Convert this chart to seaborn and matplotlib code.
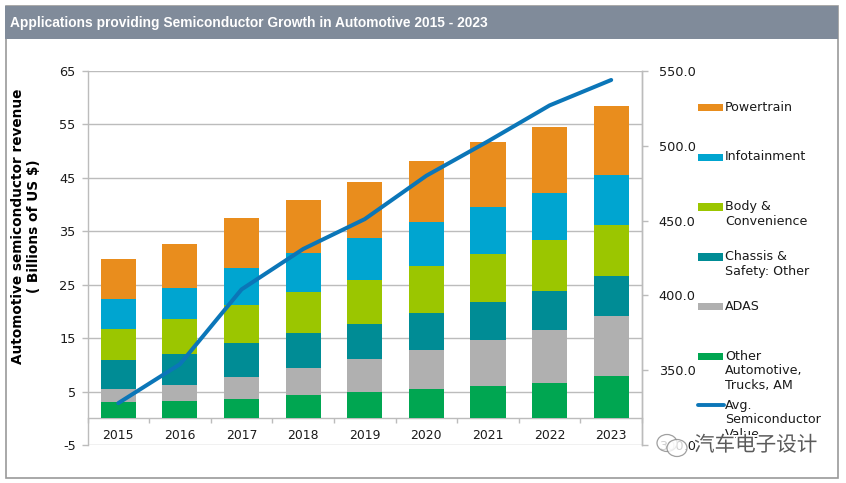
import numpy as np
import pandas as pd
import matplotlib.pyplot as plt
import matplotlib.patheffects as pe
import seaborn as sns
from matplotlib.patches import Rectangle, Ellipse
from matplotlib.lines import Line2D

years = ['2015', '2016', '2017', '2018', '2019', '2020', '2021', '2022', '2023']

# values, bottom segment first
other = [3.0, 3.3, 3.7, 4.4, 4.9, 5.5, 6.0, 6.6, 8.0]
adas = [2.4, 2.9, 4.0, 5.0, 6.2, 7.3, 8.6, 9.9, 11.1]
chassis = [5.5, 5.8, 6.3, 6.5, 6.6, 6.9, 7.1, 7.4, 7.5]
body = [5.9, 6.5, 7.2, 7.7, 8.2, 8.8, 9.1, 9.4, 9.6]
infotainment = [5.5, 5.9, 7.0, 7.4, 7.9, 8.2, 8.7, 8.9, 9.3]
powertrain = [7.6, 8.2, 9.3, 9.9, 10.5, 11.4, 12.2, 12.4, 13.0]
avg_value = [328, 354, 404, 431, 451, 480, 503, 527, 544]

series_names = ['Other\nAutomotive,\nTrucks, AM', 'ADAS', 'Chassis &\nSafety: Other',
                'Body &\nConvenience', 'Infotainment', 'Powertrain']
series_values = [other, adas, chassis, body, infotainment, powertrain]
series_colors = ['#00A651', '#B0B0B0', '#008C95', '#9BC600', '#00A5D0', '#E98D1D']
line_name = 'Avg.\nSemiconductor\nValue'
line_color = '#0B76B8'

left_ticks = [-5, 5, 15, 25, 35, 45, 55, 65]
right_ticks = [300, 350, 400, 450, 500, 550]

W, H = 846, 483
grid_color = '#BCBCBC'
text_color = '#1A1A1A'

sns.set_theme(style='white')
plt.rcParams['font.family'] = ['DejaVu Sans']
plt.rcParams['axes.unicode_minus'] = False


def fx(px):
    return px / W


def fy(py):
    return 1 - py / H


fig = plt.figure(figsize=(W / 100, H / 100), dpi=100, facecolor='white')

# outer frame and title band, kept behind the axes
fig.patches.append(Rectangle((fx(5.5), fy(478)), fx(832), 472 / H, transform=fig.transFigure,
                             facecolor='white', edgecolor='#9A9A9A', linewidth=1.2, zorder=-2))
fig.patches.append(Rectangle((fx(5), fy(39)), fx(833), 33 / H, transform=fig.transFigure,
                             facecolor='#808B9A', edgecolor='none', zorder=-1))
fig.text(fx(10), fy(23), 'Applications providing Semiconductor Growth in Automotive 2015 - 2023',
         color='white', fontsize=9.93, fontweight='bold', family='Liberation Sans', va='center')

ax = fig.add_axes([fx(87.5), fy(445), fx(642 - 87.5), (445 - 71) / H])
ax.patch.set_alpha(0)

# stacked bars
bottom = np.zeros(len(years))
for name, values, color in zip(series_names, series_values, series_colors):
    df = pd.DataFrame({'year': years, 'value': values})
    sns.barplot(data=df, x='year', y='value', color=color, saturation=1, width=0.57,
                bottom=bottom, ax=ax, zorder=3, errorbar=None, edgecolor='none', linewidth=0)
    bottom = bottom + np.array(values)

ax.set_xlim(-0.5, 8.5)
ax.set_ylim(-5, 65)
ax.set_xlabel('')
ax.set_ylabel('')
fig.text(fx(26), fy(226), 'Automotive semiconductor revenue\n( Billions of US $)', fontsize=9.8,
         fontweight='bold', color='black', rotation=90, ha='center', va='center',
         multialignment='center', linespacing=1.12)
ax.set_yticks(left_ticks)
ax.tick_params(axis='y', length=4, width=1, color=grid_color, labelsize=9.3,
               labelcolor=text_color, pad=4.5, left=True)
ax.grid(axis='y', color=grid_color, linewidth=1, zorder=0)
ax.set_axisbelow(True)

# x axis sits at zero, ticks between the categories
ax.spines['bottom'].set_position(('data', 0))
ax.spines['top'].set_visible(False)
ax.set_xticks(np.arange(len(years)))
ax.set_xticklabels(years)
ax.set_xticks(np.arange(-0.5, 9, 1), minor=True)
ax.tick_params(axis='x', which='major', length=0, labelsize=8.9, labelcolor=text_color, pad=8, bottom=True)
ax.tick_params(axis='x', which='minor', length=3.5, width=1, color=grid_color, bottom=True)
for side in ['left', 'bottom', 'right']:
    ax.spines[side].set_color(grid_color)
    ax.spines[side].set_linewidth(1)

# average value line on the second axis
ax2 = ax.twinx()
ax2.patch.set_alpha(0)
sns.lineplot(x=np.arange(len(years)), y=avg_value, color=line_color, linewidth=2.9, ax=ax2, zorder=5)
ax2.set_ylim(300, 550)
ax2.set_yticks(right_ticks)
ax2.set_yticklabels(['%.1f' % t for t in right_ticks])
ax2.tick_params(axis='y', length=4, width=1, color=grid_color, labelsize=9.3,
                labelcolor=text_color, pad=8, right=True)
ax2.grid(False)
ax2.spines['top'].set_visible(False)
ax2.spines['left'].set_visible(False)
ax2.spines['bottom'].set_visible(False)
ax2.spines['right'].set_color(grid_color)
ax2.spines['right'].set_linewidth(1)

# legend by hand, the rows are evenly spaced whatever their line count
rows = list(zip(series_names, series_colors))[::-1]
for i, (name, color) in enumerate(rows):
    key_y = 107.5 + i * 49.8
    fig.patches.append(Rectangle((fx(698), fy(key_y + 3.7)), fx(25), 7.4 / H,
                                 transform=fig.transFigure, facecolor=color, edgecolor='none'))
    fig.text(fx(725), fy(key_y - 6.8), name, fontsize=9.1, color=text_color, va='top', linespacing=1.17)
key_y = 404.5
fig.add_artist(Line2D([fx(698), fx(724)], [fy(key_y), fy(key_y)], color=line_color, linewidth=2.8))
fig.text(fx(725), fy(key_y - 5.8), line_name, fontsize=9.1, color=text_color, va='top', linespacing=1.17)

# watermark
halo = [pe.withStroke(linewidth=2.5, foreground='white')]
fig.add_artist(Ellipse((fx(667), fy(443)), fx(20), 17 / H, facecolor='white', edgecolor='#888888',
                       linewidth=0.9, alpha=0.8, zorder=10))
fig.add_artist(Ellipse((fx(677), fy(448)), fx(20), 17 / H, facecolor='white', edgecolor='#888888',
                       linewidth=0.9, alpha=0.8, zorder=10))
fig.text(fx(694), fy(445), '汽车电子设计', family=['Noto Sans CJK SC', 'DejaVu Sans'], fontsize=14.8,
         color='#5A5A5A', va='center', zorder=11, path_effects=halo)

fig.savefig('out.png', dpi=100)
